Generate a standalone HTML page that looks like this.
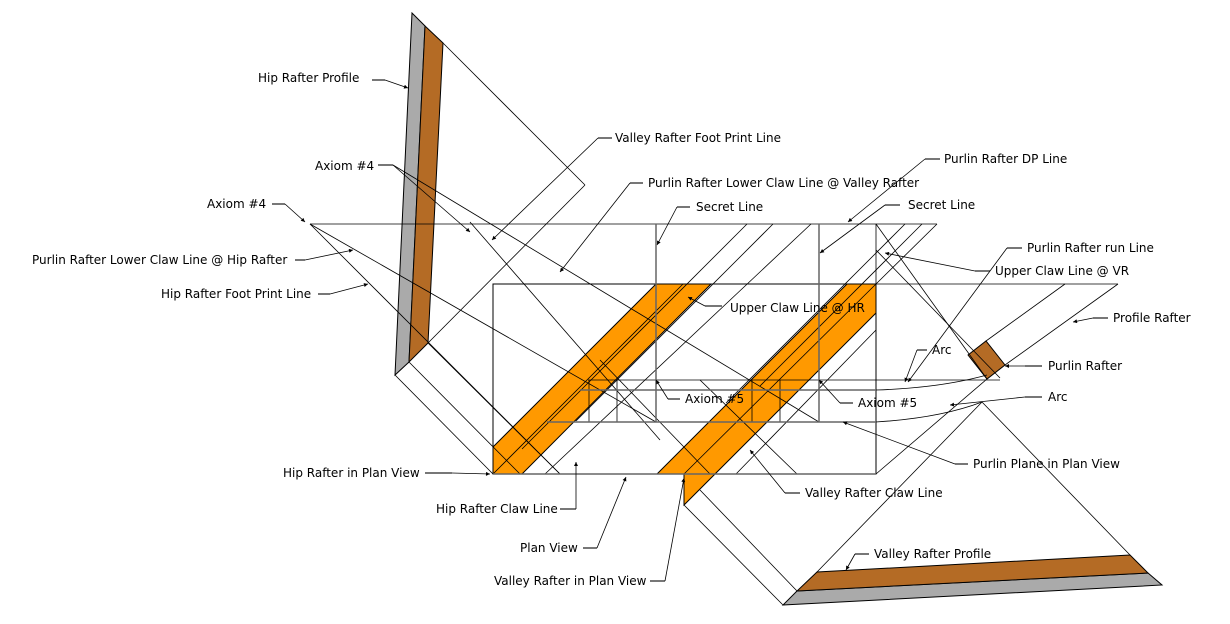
<!DOCTYPE html>
<html><head><meta charset="utf-8"><style>
html,body{margin:0;padding:0;background:#fff}
svg{display:block}
text{font-family:"DejaVu Sans","Liberation Sans",sans-serif;font-size:12px;fill:#000}
</style></head><body>
<svg width="1230" height="624" viewBox="0 0 1230 624" xmlns="http://www.w3.org/2000/svg">
<defs>
<marker id="a" viewBox="0 0 10 10" refX="10" refY="5" markerWidth="7" markerHeight="5" orient="auto-start-reverse"><path d="M0,0 L10,5 L0,10 z" fill="#000"/></marker>
</defs>
<polygon points="493,447 656,284 711,284 522,474 493,474" fill="#ff9900" stroke="#000" stroke-width="1"/>
<line x1="493" y1="474" x2="683" y2="284" stroke="#000" stroke-width="0.8"/>
<polygon points="657,474 847,284 876,284 876,313 684,505 684,474" fill="#ff9900" stroke="#000" stroke-width="1"/>
<line x1="684" y1="474" x2="876" y2="284" stroke="#000" stroke-width="0.8"/>
<polygon points="412,13 425,26 409,362 395,375" fill="#aaa" stroke="#000" stroke-width="1"/>
<polygon points="425,26 443,43 428,343 409,362" fill="#b46b25" stroke="#000" stroke-width="1"/>
<polygon points="783,605 1162,585 1148,573 797,591" fill="#aaa" stroke="#000" stroke-width="1"/>
<polygon points="797,591 1148,573 1130,555 817,572" fill="#b46b25" stroke="#000" stroke-width="1"/>
<polygon points="968,355 986,341 1005,365 987,379" fill="#b46b25" stroke="#000" stroke-width="1"/>
<g stroke="#000" stroke-width="0.8" fill="none">
<line x1="443" y1="43" x2="585" y2="185"/>
<line x1="585" y1="185" x2="428" y2="343"/>
<line x1="395" y1="375" x2="493" y2="474"/>
<line x1="409" y1="362" x2="520" y2="474"/>
<line x1="428" y1="343" x2="560" y2="474"/>
<line x1="310" y1="224" x2="937" y2="224"/>
<rect x="493" y="284" width="383" height="190" stroke-width="1"/>
<line x1="876" y1="224" x2="876" y2="284"/>
<line x1="876" y1="284" x2="1118" y2="284"/>
<line x1="1118" y1="284" x2="1005" y2="365"/>
<line x1="1065" y1="284" x2="986" y2="341"/>
<line x1="937" y1="224" x2="876" y2="284"/>
<line x1="876" y1="224" x2="987" y2="379"/>
<line x1="987" y1="379" x2="876" y2="474"/>
<line x1="982" y1="402" x2="1130" y2="555"/>
<line x1="982" y1="402" x2="817" y2="572"/>
<line x1="684" y1="505" x2="783" y2="605"/>
<line x1="700" y1="490" x2="797" y2="591"/>
<line x1="747" y1="224" x2="522" y2="449"/>
<line x1="773" y1="224" x2="576" y2="421"/>
<line x1="811" y1="224" x2="545" y2="474"/>
<line x1="922" y1="224" x2="760" y2="386"/>
<line x1="905" y1="224" x2="726" y2="403"/>
<line x1="876" y1="330" x2="736" y2="474"/>
<line x1="310" y1="224" x2="656" y2="422"/>
<line x1="310" y1="224" x2="560" y2="474"/>
<line x1="393" y1="165" x2="819" y2="422"/>
<line x1="470" y1="222" x2="660" y2="440"/>
<line x1="600" y1="360" x2="710" y2="474"/>
<line x1="700" y1="380" x2="797" y2="474"/>
<line x1="876" y1="250" x2="1000" y2="378"/>
<line x1="588" y1="380" x2="1000" y2="380"/>
<line x1="589" y1="380" x2="589" y2="422"/>
<line x1="617" y1="380" x2="617" y2="422"/>
<line x1="752" y1="380" x2="752" y2="422"/>
<line x1="780" y1="380" x2="780" y2="422"/>
</g>
<g stroke="#666" stroke-width="1.5" fill="none">
<line x1="656" y1="224" x2="656" y2="422"/>
<line x1="819" y1="224" x2="819" y2="422"/>
<line x1="580" y1="390" x2="876" y2="390"/>
<line x1="547" y1="422" x2="876" y2="422"/>
<line x1="493" y1="474" x2="876" y2="474"/>
</g>
<g stroke="#000" stroke-width="0.8" fill="none">
<path d="M876,390 Q940,388 987,375"/>
<path d="M876,422 Q940,418 982,402"/>
</g>
<g stroke="#777" stroke-width="2" fill="none">
<path d="M372,80 H385"/><path d="M612,138 H598"/><path d="M940,159 H925"/><path d="M378,165 H393"/>
<path d="M643,183 H630"/><path d="M690,207 H677"/><path d="M900,205 H885"/><path d="M272,204 H285"/>
<path d="M1022,248 H1007"/><path d="M295,260 H305"/><path d="M990,271 H975"/><path d="M318,294 H330"/>
<path d="M722,306 H705"/><path d="M1108,318 H1093"/><path d="M927,350 H917"/><path d="M1042,366 H1025"/>
<path d="M680,399 H668"/><path d="M853,403 H840"/><path d="M1042,397 H1025"/><path d="M968,464 H955"/>
<path d="M425,473 H452"/><path d="M800,493 H785"/><path d="M560,509 H576"/><path d="M583,548 H597"/>
<path d="M650,581 H665"/><path d="M869,554 H855"/>
</g>
<g stroke="#000" stroke-width="0.8" fill="none" marker-end="url(#a)">
<path d="M385,80 L408,88"/>
<path d="M598,138 L492,240"/>
<path d="M925,159 L848,222"/>
<path d="M393,165 L470,232"/>
<path d="M630,183 L560,272"/>
<path d="M677,207 L657,245"/>
<path d="M885,205 L820,253"/>
<path d="M285,204 L305,222"/>
<path d="M1007,248 L908,382"/>
<path d="M305,260 L353,250"/>
<path d="M975,271 L885,253"/>
<path d="M330,294 L368,284"/>
<path d="M705,306 L688,297"/>
<path d="M1093,318 L1073,322"/>
<path d="M917,350 L905,382"/>
<path d="M1025,366 H1005"/>
<path d="M668,399 L656,380"/>
<path d="M840,403 L819,380"/>
<path d="M1025,397 L950,405"/>
<path d="M955,464 L843,422"/>
<path d="M452,473 L490,474"/>
<path d="M785,493 L750,450"/>
<path d="M576,509 V462"/>
<path d="M597,548 L626,477"/>
<path d="M665,581 L684,478"/>
<path d="M855,554 L846,570"/>
</g>
<text x="258" y="82">Hip Rafter Profile</text>
<text x="615" y="142">Valley Rafter Foot Print Line</text>
<text x="944" y="163">Purlin Rafter DP Line</text>
<text x="315" y="170">Axiom #4</text>
<text x="648" y="187">Purlin Rafter Lower Claw Line @ Valley Rafter</text>
<text x="696" y="211">Secret Line</text>
<text x="908" y="209">Secret Line</text>
<text x="207" y="208">Axiom #4</text>
<text x="1027" y="252">Purlin Rafter run Line</text>
<text x="32" y="264">Purlin Rafter Lower Claw Line @ Hip Rafter</text>
<text x="995" y="275">Upper Claw Line @ VR</text>
<text x="161" y="298">Hip Rafter Foot Print Line</text>
<text x="730" y="312">Upper Claw Line @ HR</text>
<text x="1113" y="322">Profile Rafter</text>
<text x="932" y="354">Arc</text>
<text x="1048" y="370">Purlin Rafter</text>
<text x="685" y="403">Axiom #5</text>
<text x="858" y="407">Axiom #5</text>
<text x="1048" y="401">Arc</text>
<text x="973" y="468">Purlin Plane in Plan View</text>
<text x="283" y="477">Hip Rafter in Plan View</text>
<text x="805" y="497">Valley Rafter Claw Line</text>
<text x="436" y="513">Hip Rafter Claw Line</text>
<text x="520" y="552">Plan View</text>
<text x="494" y="585">Valley Rafter in Plan View</text>
<text x="874" y="558">Valley Rafter Profile</text>
</svg>
</body></html>
